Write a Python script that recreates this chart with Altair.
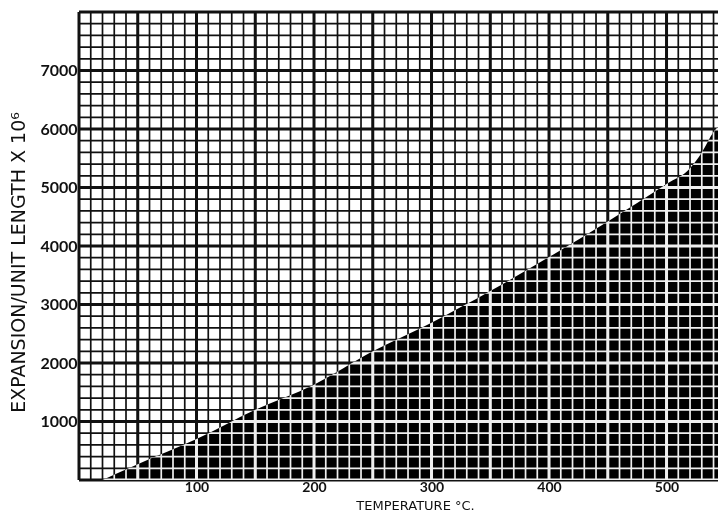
import altair as alt
import pandas as pd

# Curve (temperature in °C, expansion per unit length x 10^6)
temperature = [20, 50, 100, 150, 200, 250, 300, 350, 400, 450, 500, 520, 530, 540, 550]
expansion = [0, 270, 700, 1200, 1630, 2200, 2690, 3230, 3810, 4420, 5060, 5330, 5600, 5950, 6150]

x_tick_labels = [100, 200, 300, 400, 500]
y_tick_labels = [1000, 2000, 3000, 4000, 5000, 6000, 7000]

# graph-paper rulings
minor_x = list(range(0, 551, 10))
major_x = list(range(0, 551, 50))
minor_y = list(range(0, 8001, 200))
major_y = list(range(0, 8001, 1000))

curve = pd.DataFrame({"t": temperature, "e": expansion})

xs = alt.Scale(domain=[0, 543.8], nice=False, zero=False)
ys = alt.Scale(domain=[0, 8000], nice=False)

FONT = "Lato"
TFONT = "DejaVu Sans"
INK = "#111111"

x_axis = alt.Axis(values=x_tick_labels, format="d", title="TEMPERATURE  °C.", ticks=False,
                  domain=False, grid=False, labelFont=FONT, labelFontSize=14,
                  labelFontWeight="bold", labelColor=INK, labelPadding=0, titleFont=TFONT,
                  titleFontSize=13, titleFontWeight="normal", titleColor=INK, titleX=336,
                  titleY=32, titleBaseline="bottom")
y_axis = alt.Axis(values=y_tick_labels, format="d", title="EXPANSION/UNIT LENGTH X 10⁶",
                  ticks=False, domain=False, grid=False, labelFont=FONT, labelFontSize=16,
                  labelFontWeight="bold", labelColor=INK, labelPadding=2, titleFont=TFONT,
                  titleFontSize=19, titleFontWeight="normal", titleColor=INK,
                  titleX=-61, titleY=250, titleBaseline="middle")

X = lambda: alt.X("t:Q", scale=xs, axis=x_axis)
Y = lambda: alt.Y("e:Q", scale=ys, axis=y_axis)

vminor = alt.Chart(pd.DataFrame({"t": minor_x})).mark_rule(color=INK, strokeWidth=1.7).encode(x=X())
hminor = alt.Chart(pd.DataFrame({"e": minor_y})).mark_rule(color=INK, strokeWidth=1.7).encode(y=Y())
vmajor = alt.Chart(pd.DataFrame({"t": major_x})).mark_rule(color=INK, strokeWidth=3).encode(x=X())
hmajor = alt.Chart(pd.DataFrame({"e": major_y})).mark_rule(color=INK, strokeWidth=3).encode(y=Y())

# white area in "difference" blend: black fill over paper, white over the rulings
area = alt.Chart(curve).mark_area(color="white", blend="difference",
                                  interpolate="monotone").encode(x=X(), y=Y())

chart = alt.layer(vminor, hminor, vmajor, hmajor, area).properties(
    width=639, height=468,
    autosize=alt.AutoSizeParams(type="none"),
    padding={"left": 71, "top": 4, "right": 0, "bottom": 32},
    background="white",
).configure_view(stroke=None)

chart.save("out.html", embed_options={"renderer": "svg", "actions": False})
